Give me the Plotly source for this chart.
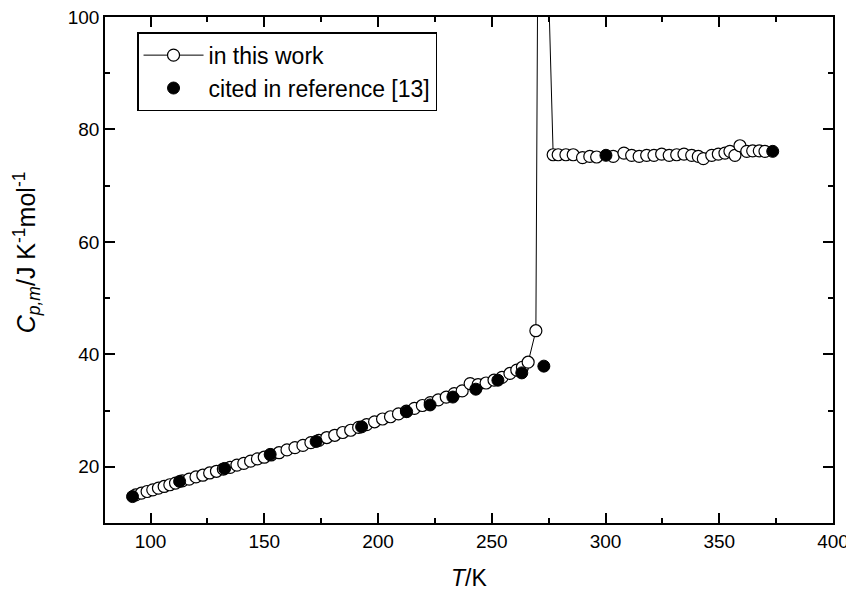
import plotly.graph_objects as go

# "in this work" (open circles joined by a line, including the transition spike)
work_T = [93.5, 96, 98.5, 101, 103.5, 106, 108.5, 111, 114, 117, 120, 123, 126, 129,
          132, 135, 138, 141, 144, 147, 150, 153, 156.5, 160, 163.5, 167, 170.5, 174,
          177.5, 181, 184.5, 188, 191.5, 195, 198.5, 202, 205.5, 209, 212.5, 216, 219.5,
          223, 226.5, 230, 233.5, 237, 240.5, 244, 247.5, 251, 254.5, 258, 261, 263.5,
          266, 269.4, 272.0, 274.3,
          277.0, 279.2, 282.6, 285.8, 289.9, 293.1, 296.1, 303.4, 308.1, 311.5, 314.8,
          318.1, 321.3, 324.7, 328.0, 331.3, 334.5, 337.9, 340.8, 343.0, 346.7, 349.6,
          352.5, 354.7, 356.9, 359.1, 362.1, 364.7, 367.6, 370.1]
work_Cp = [15.0, 15.3, 15.6, 15.9, 16.2, 16.5, 16.8, 17.1, 17.5, 17.8, 18.2, 18.5, 18.9, 19.2,
           19.6, 19.9, 20.3, 20.6, 21.0, 21.4, 21.7, 22.1, 22.5, 23.0, 23.4, 23.8, 24.3, 24.7,
           25.2, 25.6, 26.1, 26.5, 27.0, 27.5, 28.0, 28.5, 28.9, 29.4, 29.9, 30.4, 30.9,
           31.4, 31.9, 32.4, 33.0, 33.5, 34.8, 34.6, 34.9, 35.4, 35.9, 36.6, 37.2, 37.7,
           38.6, 44.2, 250.0, 115.0,
           75.5, 75.5, 75.5, 75.5, 75.0, 75.2, 75.1, 75.2, 75.8, 75.4, 75.2, 75.4, 75.4,
           75.6, 75.4, 75.5, 75.6, 75.4, 75.2, 74.8, 75.4, 75.6, 75.8, 76.1, 75.4, 77.1,
           76.1, 76.2, 76.2, 76.1]

# "cited in reference [13]" (filled circles)
ref_T = [92.1, 112.8, 132.6, 152.6, 172.8, 192.8, 212.6, 222.9, 232.9, 243.0, 252.7,
         263.2, 272.9, 300.2, 373.5]
ref_Cp = [14.7, 17.4, 19.7, 22.2, 24.5, 27.1, 29.8, 31.0, 32.4, 33.8, 35.4,
          36.7, 37.9, 75.4, 76.1]

x_range = [80, 400]
y_range = [10, 100]
x_ticks = [100, 150, 200, 250, 300, 350, 400]
x_minor_ticks = [125, 175, 225, 275, 325, 375]
y_ticks = [20, 40, 60, 80, 100]
y_minor_ticks = [30, 50, 70, 90]

FONT = "Liberation Sans, Arial, Helvetica, sans-serif"

fig = go.Figure()
fig.add_trace(go.Scatter(
    x=work_T, y=work_Cp, mode="lines+markers", name="in this work",
    line=dict(color="black", width=1),
    marker=dict(symbol="circle", size=12, color="white",
                line=dict(color="black", width=1.2)),
))
fig.add_trace(go.Scatter(
    x=ref_T, y=ref_Cp, mode="markers", name="cited in reference [13]",
    marker=dict(symbol="circle", size=12, color="black",
                line=dict(color="black", width=1)),
))
# empty trace that only carries the overlay axes used for the minor ticks
fig.add_trace(go.Scatter(x=[], y=[], xaxis="x2", yaxis="y2", showlegend=False,
                         hoverinfo="skip"))

axis_common = dict(
    showgrid=False, zeroline=False, showline=True, linecolor="black", linewidth=1.6,
    mirror="allticks", ticks="inside", tickwidth=1.6, tickcolor="black",
    automargin=False,
)

fig.update_layout(
    xaxis=dict(range=x_range, tickmode="array", tickvals=x_ticks, ticklen=10,
               tickfont=dict(family=FONT, size=19, color="black"),
               ticklabeloverflow="allow", **axis_common),
    yaxis=dict(range=y_range, tickmode="array", tickvals=y_ticks, ticklen=10,
               tickfont=dict(family=FONT, size=19, color="black"),
               ticklabeloverflow="allow", **axis_common),
    xaxis2=dict(range=x_range, overlaying="x", anchor="y", side="bottom",
                tickmode="array", tickvals=x_minor_ticks, ticklen=5,
                showticklabels=False, **axis_common),
    yaxis2=dict(range=y_range, overlaying="y", anchor="x", side="left",
                tickmode="array", tickvals=y_minor_ticks, ticklen=5,
                showticklabels=False, **axis_common),
)

fig.add_annotation(
    text="<i>T</i>/K", xref="paper", yref="paper", x=0.5, y=0, yshift=-55,
    xanchor="center", yanchor="middle", showarrow=False,
    font=dict(family=FONT, size=23, color="black"),
)
fig.add_annotation(
    text="<i>C</i><sub><i>p,m</i></sub>/J K<sup>-1</sup>mol<sup>-1</sup>",
    xref="paper", yref="paper", x=0, y=0.535, xshift=-78,
    xanchor="center", yanchor="middle", textangle=-90, showarrow=False,
    font=dict(family=FONT, size=25, color="black"),
)

# the page adds an 8px body margin, so the figure is 8px smaller and shifted
fig.update_layout(
    template="none",
    width=846, height=589,
    margin=dict(l=97, r=21, t=9, b=74, autoexpand=False),
    paper_bgcolor="white", plot_bgcolor="white",
    showlegend=True,
    legend=dict(
        x=0.044, y=0.97, xanchor="left", yanchor="top",
        bgcolor="white", bordercolor="black", borderwidth=1.5,
        font=dict(family=FONT, size=23, color="black"),
        itemwidth=60, tracegroupgap=0,
    ),
)

fig.write_html("out.html")
